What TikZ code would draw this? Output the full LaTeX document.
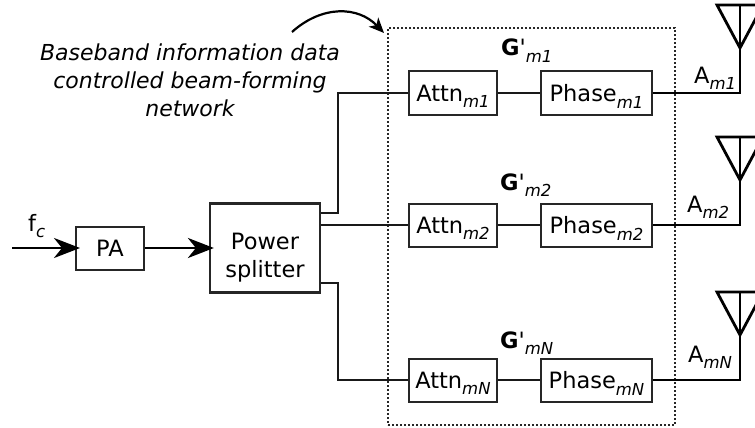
\documentclass[tikz,border=0pt]{standalone}
\usepackage{fontspec}
\setmainfont{DejaVu Sans}
\newfontfamily\plainf{DejaVu Sans}
\usetikzlibrary{arrows.meta}
\newcommand{\subi}[1]{\smash{\raisebox{-0.3em}{\fontsize{16.5}{16.5}\selectfont\itshape #1}}}
\newcommand{\gprime}{\textbf{G}{\plainf '}}
\tikzset{
  every node/.style={font=\fontsize{22.5}{28}\selectfont,inner sep=0pt},
  blk/.style={draw=black!85,line width=2pt,fill=white,minimum height=43pt},
  wire/.style={draw=black!90,line width=2.2pt},
  feed/.style={draw=black,line width=2.8pt},
  tipped/.style={draw=black,line width=2.8pt,-{Stealth[length=26pt,width=20pt,inset=8pt]}},
  lab/.style={anchor=base west},
  dotbox/.style={draw=black!85,line width=2.2pt,dash pattern=on 2pt off 2pt}
}
\begin{document}
\begin{tikzpicture}[x=1pt,y=-1pt]
\useasboundingbox (0,0) rectangle (755,428);
\node[dotbox,minimum width=287pt,minimum height=397pt,anchor=north west] (frame) at (387,27) {};
\coordinate (in) at (12,248);
\node[blk,minimum width=68pt] (pa) at (110,248) {PA};
\node[blk,line width=2.2pt,minimum width=110pt,minimum height=89pt,align=center] (ps) at (265,248) {\rule{0pt}{36pt}Power\\splitter};
\node[blk,minimum width=88pt] (a1) at (453,93) {Attn\subi{m1}};
\node[blk,minimum width=111pt] (p1) at (596.5,93) {Phase\subi{m1}};
\node[blk,minimum width=88pt] (a2) at (453,225) {Attn\subi{m2}};
\node[blk,minimum width=111pt] (p2) at (596.5,225) {Phase\subi{m2}};
\node[blk,minimum width=88pt] (a3) at (453,380) {Attn\subi{mN}};
\node[blk,minimum width=111pt] (p3) at (596.5,380) {Phase\subi{mN}};
\node[lab] (fc) at (28,231) {f\subi{c}};
\node[lab] (g1) at (501,56) {\gprime\subi{m1}};
\node[lab] (g2) at (500,190) {\gprime\subi{m2}};
\node[lab] (g3) at (500,348) {\gprime\subi{mN}};
\node[lab] (l1) at (694,83) {A\subi{m1}};
\node[lab] (l2) at (687,212) {A\subi{m2}};
\node[lab] (l3) at (688,362) {A\subi{mN}};
\node[align=center,font=\fontsize{22}{28}\selectfont\itshape] (cap) at (190,80) {Baseband information data\\controlled beam-forming\\network};
\coordinate (cs) at (292,32);
\coordinate (ce) at (384,33);
\draw[line width=2.2pt,-{Stealth[length=15pt,width=13pt,inset=4pt]}] (cs) .. controls (322,5) and (358,6) .. (ce);
\draw[tipped] (in) -- ([xshift=5pt]pa.west);
\draw[tipped] (pa.east) -- ([xshift=5pt]ps.west);
\coordinate (j1) at (338,213);
\coordinate (j3) at (338,283);
\draw[wire] (ps.east |- j1) -- (j1) |- (a1.west);
\draw[wire] (ps.east |- a2.west) -- (a2.west);
\draw[wire] (ps.east |- j3) -- (j3) |- (a3.west);
\draw[wire] (a1) -- (p1);
\draw[wire] (a2) -- (p2);
\draw[wire] (a3) -- (p3);
\foreach \i/\t/\y in {1/5/93,2/137/225,3/292/380}{
  \coordinate (top\i) at (740,\t);
  \coordinate (apex\i) at (740,\t+43);
  \coordinate (tl\i) at (717,\t);
  \coordinate (tr\i) at (763,\t);
  \coordinate (foot\i) at (740,\y);
  \draw[feed,line join=miter] (p\i.east) -- (foot\i) -- (top\i);
  \draw[feed,line join=miter] (apex\i) -- (tl\i) -- (tr\i) -- cycle;
}
\end{tikzpicture}
\end{document}
